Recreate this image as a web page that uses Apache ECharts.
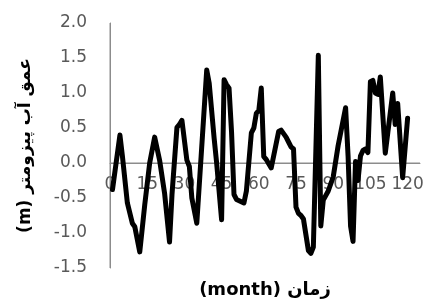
<!DOCTYPE html>
<html>
<head>
<meta charset="utf-8">
<script src="https://cdn.jsdelivr.net/npm/echarts@6/dist/echarts.min.js"></script>
<style>
html,body{margin:0;padding:0;background:#fff;}
#c{width:430px;height:305px;}
</style>
</head>
<body>
<div id="c"></div>
<script>
// month index of each vertex
var months = [1, 4, 5, 7, 9, 10, 12, 14, 16, 18, 20, 22, 24, 25, 27, 28, 29, 31, 32, 33, 35,
  39, 40, 42, 43, 45, 46, 47, 48, 49, 50, 51, 54, 55, 57, 58, 59, 60, 61, 62, 63, 65, 68, 69, 71, 72, 73, 74,
  75, 76, 77, 78, 80, 81, 82, 84, 85, 86, 88, 90, 92, 95, 96, 97, 98, 99, 100, 101, 102, 103, 104,
  105, 106, 107, 108, 109, 111, 114, 115, 116, 118, 120];
// piezometer water depth (m)
var depth = [-0.38, 0.40, 0.10, -0.57, -0.86, -0.91, -1.27, -0.60, 0.00, 0.37, 0.04, -0.43, -1.13, -0.45, 0.51, 0.55, 0.61, 0.04, -0.05, -0.50, -0.86,
  1.33, 1.14, 0.35, 0.00, -0.81, 1.19, 1.12, 1.07, 0.45, -0.45, -0.52, -0.57, -0.40, 0.43, 0.50, 0.71, 0.75, 1.07, 0.09, 0.05, -0.07, 0.45, 0.47, 0.37, 0.30, 0.23, 0.20,
  -0.63, -0.72, -0.75, -0.80, -1.25, -1.29, -1.20, 1.54, -0.90, -0.53, -0.40, -0.20, 0.25, 0.79, 0.10, -0.90, -1.12, 0.02, -0.25, 0.10, 0.18, 0.20, 0.15,
  1.16, 1.18, 1.00, 0.98, 1.23, 0.14, 1.00, 0.55, 0.85, -0.21, 0.64];
var xTickStep = 15;
var xMin = 0, xMax = 125;
var yTicks = [-1.5, -1.0, -0.5, 0.0, 0.5, 1.0, 1.5, 2.0];

var points = months.map(function (m, i) { return [m, depth[i]]; });

var gridTop = 23, gridBottom = 37, H = 305;
var plotH = H - gridTop - gridBottom;
var yMin = yTicks[0], yMax = yTicks[yTicks.length - 1];
// lift the x axis from the grid bottom up to the zero line
var zeroLift = plotH * (0 - yMin) / (yMax - yMin);

var axisGray = '#8c8c8c';

var chart = echarts.init(document.getElementById('c'), null, {renderer: 'canvas'});
chart.setOption({
  animation: false,
  textStyle: {fontFamily: 'DejaVu Sans'},
  grid: {left: 110, right: 10, top: gridTop, bottom: gridBottom, containLabel: false},
  xAxis: {
    type: 'value',
    position: 'bottom',
    offset: -zeroLift,
    min: xMin, max: xMax, interval: xTickStep,
    axisLine: {show: true, onZero: false, lineStyle: {color: axisGray, width: 1}},
    axisTick: {show: false},
    splitLine: {show: false},
    axisLabel: {fontSize: 17, color: '#595959', margin: 13, showMaxLabel: false, fontFamily: 'DejaVu Sans'},
    name: '(month) زمان',
    nameLocation: 'middle',
    nameGap: 118,
    nameTextStyle: {fontSize: 18, fontWeight: 'bold', color: '#000', fontFamily: 'DejaVu Sans'},
    z: 0
  },
  yAxis: {
    type: 'value',
    min: yMin, max: yMax, interval: 0.5,
    axisLine: {show: true, onZero: false, lineStyle: {color: axisGray, width: 1}},
    axisTick: {show: false},
    splitLine: {show: false},
    axisLabel: {fontSize: 17, color: '#595959', margin: 23, fontFamily: 'DejaVu Sans',
      formatter: function (v) { return v.toFixed(1); }},
    name: '(m) عمق آب پیزومتر',
    nameLocation: 'middle',
    nameRotate: 90,
    nameGap: 76,
    nameTextStyle: {fontSize: 17, fontWeight: 'bold', color: '#000', fontFamily: 'DejaVu Sans'}
  },
  series: [
    {
      type: 'line', silent: true, z: 1, showSymbol: false, symbol: 'none',
      data: [[xMin, 0], [xMax, 0]],
      lineStyle: {color: axisGray, width: 1}
    },
    {
      type: 'line', silent: true, z: 1, showSymbol: false, symbol: 'none',
      data: [[xMin, yMin], [xMin, yMax]],
      lineStyle: {color: axisGray, width: 1}
    },
    {
      type: 'line',
      data: points,
      showSymbol: false,
      symbol: 'none',
      smooth: false,
      z: 5,
      lineStyle: {color: '#000', width: 5, join: 'round', cap: 'round'}
    }
  ]
});
</script>
</body>
</html>
